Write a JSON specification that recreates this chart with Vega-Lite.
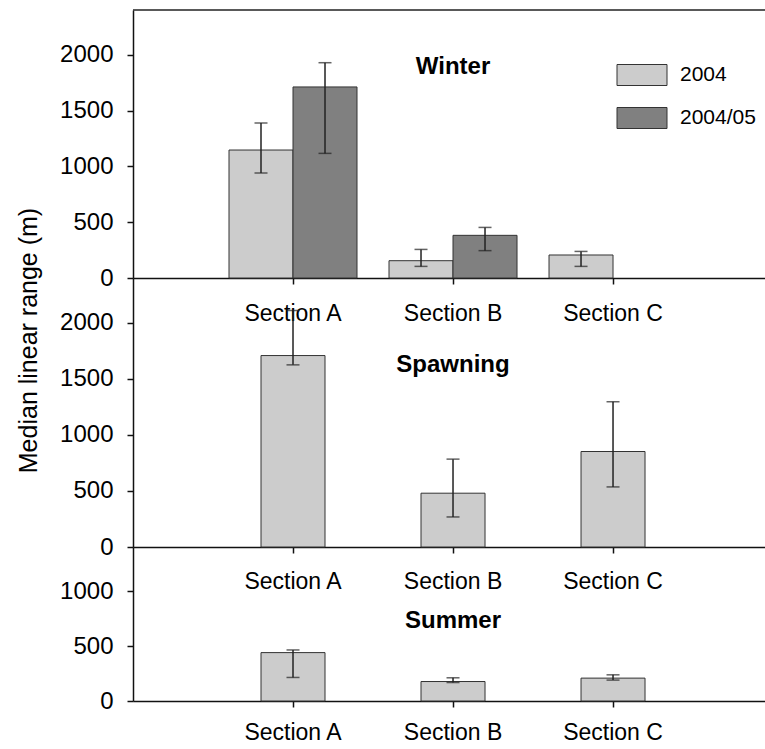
{
  "$schema": "https://vega.github.io/schema/vega-lite/v6.json",
  "padding": {"left": 16, "top": 9, "right": 0, "bottom": 0},
  "autosize": {"type": "pad"},
  "background": "white",
  "bounds": "flush",
  "spacing": 0,
  "config": {
    "font": "Liberation Sans",
    "view": {"stroke": null},
    "axis": {"domainColor": "#111", "tickColor": "#111", "labelColor": "#000", "titleColor": "#000", "grid": false, "tickSize": 6, "domainWidth": 1.5, "tickWidth": 1.5, "labelFont": "Liberation Sans", "titleFont": "Liberation Sans"},
    "legend": {"padding": 0}
  },
  "data": {"values": [
    {"season": "Winter", "section": "Section A", "year": "2004", "value": 1146, "lo": 940, "hi": 1388},
    {"season": "Winter", "section": "Section A", "year": "2004/05", "value": 1711, "lo": 1116, "hi": 1928},
    {"season": "Winter", "section": "Section B", "year": "2004", "value": 155, "lo": 104, "hi": 256},
    {"season": "Winter", "section": "Section B", "year": "2004/05", "value": 382, "lo": 245, "hi": 453},
    {"season": "Winter", "section": "Section C", "year": "2004", "value": 206, "lo": 104, "hi": 238},
    {"season": "Spawning", "section": "Section A", "year": "2004", "value": 1708, "lo": 1625, "hi": 2110},
    {"season": "Spawning", "section": "Section B", "year": "2004", "value": 480, "lo": 268, "hi": 784},
    {"season": "Spawning", "section": "Section C", "year": "2004", "value": 852, "lo": 536, "hi": 1296},
    {"season": "Summer", "section": "Section A", "year": "2004", "value": 440, "lo": 214, "hi": 464},
    {"season": "Summer", "section": "Section B", "year": "2004", "value": 177, "lo": 168, "hi": 211},
    {"season": "Summer", "section": "Section C", "year": "2004", "value": 208, "lo": 190, "hi": 238}
  ]},
  "vconcat": [
    {
      "width": 633, "height": 268,
      "transform": [{"filter": "datum.season === 'Winter'"}],
      "layer": [
        {
          "mark": {"type": "bar", "stroke": "#333", "strokeWidth": 1},
          "encoding": {
            "x": {"field": "section", "type": "nominal", "scale": {"domain": ["Section A", "Section B", "Section C"], "paddingInner": 0.2, "paddingOuter": 0.578, "align": 0.519}, "axis": {"title": null, "labelAngle": 0, "labelFontSize": 23, "labelPadding": 18}},
            "xOffset": {"field": "year", "type": "nominal", "scale": {"domain": ["2004", "2004/05"], "paddingInner": 0, "paddingOuter": 0}},
            "y": {"field": "value", "type": "quantitative", "scale": {"domain": [0, 2400], "nice": false}, "axis": {"title": null, "format": "d", "values": [0, 500, 1000, 1500, 2000], "labelFontSize": 24, "labelPadding": 14}},
            "fill": {"field": "year", "type": "nominal", "scale": {"domain": ["2004", "2004/05"], "range": ["#cccccc", "#808080"]},
              "legend": {"title": null, "orient": "none", "legendX": 496, "legendY": 52, "symbolType": "M-2,-0.84H2V0.84H-2Z", "symbolSize": 625, "symbolStrokeColor": "#333", "symbolStrokeWidth": 1, "symbolOpacity": 1, "labelFontSize": 21, "labelColor": "#000", "labelOffset": 25, "rowPadding": 17}}
          }
        },
        {
          "mark": {"type": "rule", "color": "#222", "strokeWidth": 1.5},
          "encoding": {
            "x": {"field": "section", "type": "nominal"},
            "xOffset": {"field": "year", "type": "nominal"},
            "y": {"field": "lo", "type": "quantitative"},
            "y2": {"field": "hi"}
          }
        },
        {
          "mark": {"type": "tick", "orient": "horizontal", "size": 13, "thickness": 1.5, "color": "#222"},
          "encoding": {
            "x": {"field": "section", "type": "nominal"},
            "xOffset": {"field": "year", "type": "nominal"},
            "y": {"field": "lo", "type": "quantitative"}
          }
        },
        {
          "mark": {"type": "tick", "orient": "horizontal", "size": 13, "thickness": 1.5, "color": "#222"},
          "encoding": {
            "x": {"field": "section", "type": "nominal"},
            "xOffset": {"field": "year", "type": "nominal"},
            "y": {"field": "hi", "type": "quantitative"}
          }
        },
        {
          "data": {"values": [{}]},
          "mark": {"type": "rule", "color": "#222", "strokeWidth": 1.5},
          "encoding": {
            "y": {"datum": 2400}
          }
        },
        {
          "data": {"values": [{}]},
          "mark": {"type": "text", "fontSize": 24, "fontWeight": "bold", "baseline": "alphabetic", "align": "center", "color": "#000"},
          "encoding": {
            "x": {"datum": "Section B"},
            "y": {"datum": 1827},
            "text": {"value": "Winter"}
          }
        }
      ]
    },
    {
      "width": 633, "height": 269,
      "transform": [{"filter": "datum.season === 'Spawning'"}],
      "layer": [
        {
          "mark": {"type": "bar", "stroke": "#333", "strokeWidth": 1, "fill": "#cccccc", "width": {"band": 0.5}},
          "encoding": {
            "x": {"field": "section", "type": "nominal", "scale": {"domain": ["Section A", "Section B", "Section C"], "paddingInner": 0.2, "paddingOuter": 0.578, "align": 0.519}, "axis": {"title": null, "labelAngle": 0, "labelFontSize": 23, "labelPadding": 17}},
            "y": {"field": "value", "type": "quantitative", "scale": {"domain": [0, 2400], "nice": false}, "axis": {"title": "Median linear range (m)", "format": "d", "titleFontSize": 25, "titleFontWeight": "normal", "titlePadding": 18, "titleY": 62, "values": [0, 500, 1000, 1500, 2000], "labelFontSize": 24, "labelPadding": 14}}
          }
        },
        {
          "mark": {"type": "rule", "color": "#222", "strokeWidth": 1.5},
          "encoding": {
            "x": {"field": "section", "type": "nominal"},
            "y": {"field": "lo", "type": "quantitative"},
            "y2": {"field": "hi"}
          }
        },
        {
          "mark": {"type": "tick", "orient": "horizontal", "size": 13, "thickness": 1.5, "color": "#222"},
          "encoding": {
            "x": {"field": "section", "type": "nominal"},
            "y": {"field": "lo", "type": "quantitative"}
          }
        },
        {
          "mark": {"type": "tick", "orient": "horizontal", "size": 13, "thickness": 1.5, "color": "#222"},
          "encoding": {
            "x": {"field": "section", "type": "nominal"},
            "y": {"field": "hi", "type": "quantitative"}
          }
        },
        {
          "data": {"values": [{}]},
          "mark": {"type": "text", "fontSize": 24, "fontWeight": "bold", "baseline": "alphabetic", "align": "center", "color": "#000"},
          "encoding": {
            "x": {"datum": "Section B"},
            "y": {"datum": 1558},
            "text": {"value": "Spawning"}
          }
        }
      ]
    },
    {
      "width": 633, "height": 154,
      "transform": [{"filter": "datum.season === 'Summer'"}],
      "layer": [
        {
          "mark": {"type": "bar", "stroke": "#333", "strokeWidth": 1, "fill": "#cccccc", "width": {"band": 0.5}},
          "encoding": {
            "x": {"field": "section", "type": "nominal", "scale": {"domain": ["Section A", "Section B", "Section C"], "paddingInner": 0.2, "paddingOuter": 0.578, "align": 0.519}, "axis": {"title": null, "labelAngle": 0, "labelFontSize": 23, "labelPadding": 14}},
            "y": {"field": "value", "type": "quantitative", "scale": {"domain": [0, 1400], "nice": false}, "axis": {"title": null, "format": "d", "values": [0, 500, 1000], "labelFontSize": 24, "labelPadding": 14}}
          }
        },
        {
          "mark": {"type": "rule", "color": "#222", "strokeWidth": 1.5},
          "encoding": {
            "x": {"field": "section", "type": "nominal"},
            "y": {"field": "lo", "type": "quantitative"},
            "y2": {"field": "hi"}
          }
        },
        {
          "mark": {"type": "tick", "orient": "horizontal", "size": 13, "thickness": 1.5, "color": "#222"},
          "encoding": {
            "x": {"field": "section", "type": "nominal"},
            "y": {"field": "lo", "type": "quantitative"}
          }
        },
        {
          "mark": {"type": "tick", "orient": "horizontal", "size": 13, "thickness": 1.5, "color": "#222"},
          "encoding": {
            "x": {"field": "section", "type": "nominal"},
            "y": {"field": "hi", "type": "quantitative"}
          }
        },
        {
          "data": {"values": [{}]},
          "mark": {"type": "text", "fontSize": 24, "fontWeight": "bold", "baseline": "alphabetic", "align": "center", "color": "#000"},
          "encoding": {
            "x": {"datum": "Section B"},
            "y": {"datum": 664},
            "text": {"value": "Summer"}
          }
        }
      ]
    }
  ]
}
